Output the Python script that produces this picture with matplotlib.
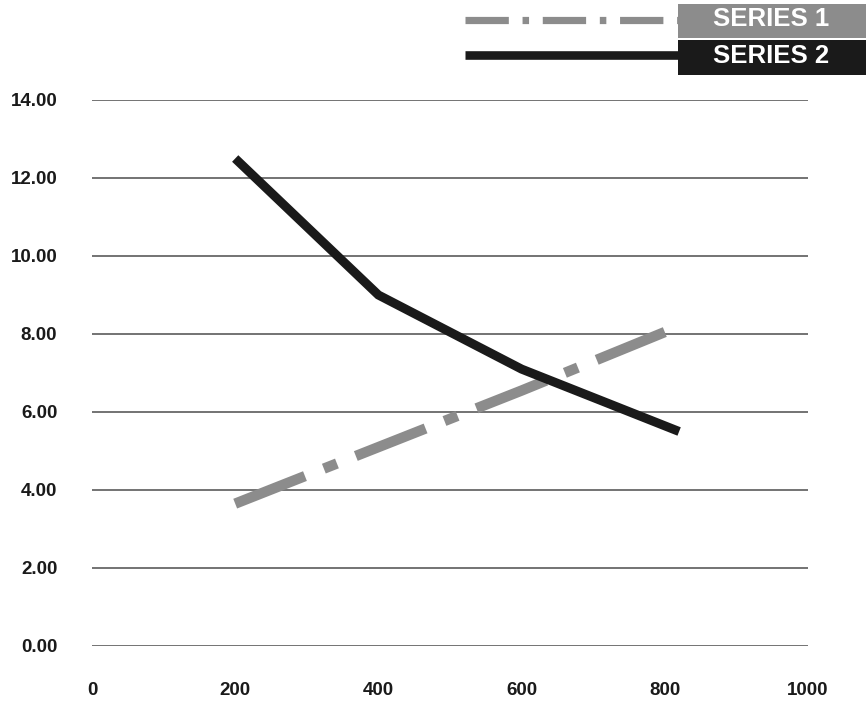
import matplotlib.pyplot as plt
from matplotlib.patches import Rectangle
from matplotlib.lines import Line2D

plt.rcParams['font.family'] = ['Liberation Sans', 'DejaVu Sans']

# series data
x_s1 = [200, 400, 600, 800]
y_s1 = [3.65, 5.1, 6.55, 8.05]
x_s2 = [200, 400, 600, 820]
y_s2 = [12.5, 9.0, 7.1, 5.5]

x_ticks = [0, 200, 400, 600, 800, 1000]
y_ticks = [0, 2, 4, 6, 8, 10, 12, 14]
labels = ['SERIES 1', 'SERIES 2']

gray = '#8c8c8c'
black = '#1a1a1a'

fig = plt.figure(figsize=(8.66, 7.01), dpi=100)
ax = fig.add_axes([92 / 866, 55 / 701, 716 / 866, 546 / 701])

ax.plot(x_s1, y_s1, color=gray, lw=7.5, dashes=(7.2, 1.95, 1.35, 1.95),
        dash_capstyle='butt', solid_capstyle='butt', clip_on=False, zorder=3)
ax.plot(x_s2, y_s2, color=black, lw=6.5, solid_capstyle='butt',
        solid_joinstyle='miter', clip_on=False, zorder=4)

ax.set_xlim(0, 1000)
ax.set_ylim(0, 14)
ax.set_xticks(x_ticks)
ax.set_xticklabels([str(v) for v in x_ticks], fontsize=13.5, fontweight='bold')
ax.set_yticks(y_ticks)
ax.set_yticklabels([f'{v:.2f}' for v in y_ticks], fontsize=13.5, fontweight='bold')
ax.tick_params(axis='both', length=0, colors='#1a1a1a')
ax.tick_params(axis='x', pad=26)
ax.tick_params(axis='y', pad=25)
ax.grid(axis='y', color='#4d4d4d', lw=1.1)
ax.set_axisbelow(True)
for s in ax.spines.values():
    s.set_visible(False)

# legend in the top-right corner: line sample + filled label box
W, H = 866, 701
rows = [(gray, 4, 38, 20, 5.2, (6.0, 1.9, 0.9, 1.9)),
        (black, 40, 75, 55, 6.2, None)]
for lab, (c, top, bot, ly, lw, dash) in zip(labels, rows):
    fig.patches.append(Rectangle((678 / W, 1 - bot / H), 188 / W, (bot - top) / H,
                                 transform=fig.transFigure, facecolor=c,
                                 edgecolor='none'))
    ln = Line2D([465 / W, 678 / W], [1 - ly / H, 1 - ly / H], color=c, lw=lw,
                transform=fig.transFigure, solid_capstyle='butt',
                dash_capstyle='butt')
    if dash:
        ln.set_dashes(dash)
    fig.lines.append(ln)
    fig.text(771 / W, 1 - ((top + bot) / 2 - 1.5) / H, lab, color='white',
             fontsize=18.5, fontweight='bold', ha='center', va='center')

fig.savefig('out.png', dpi=100, facecolor='white')
